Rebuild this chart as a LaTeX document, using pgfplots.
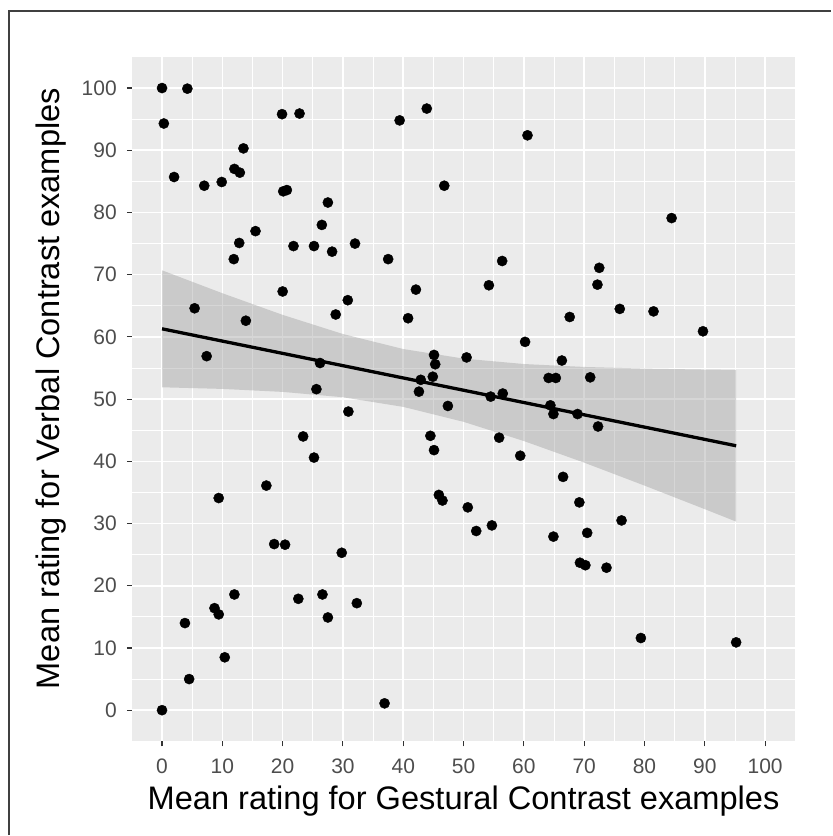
\documentclass[border=0pt]{standalone}
\usepackage{fontspec}
\setmainfont{Liberation Sans}
\usepackage{pgfplots}
\pgfplotsset{compat=1.18}
\definecolor{panelbg}{HTML}{EBEBEB}
\definecolor{ticktxt}{HTML}{4D4D4D}
\definecolor{tickcol}{HTML}{333333}
\definecolor{ribbon}{HTML}{999999}
\begin{document}
\begin{tikzpicture}
\begin{axis}[
  at={(132pt,94pt)}, anchor=south west,
  width=664pt, height=685pt, scale only axis,
  xmin=-5, xmax=105, ymin=-5, ymax=105,
  xtick={0,10,...,100}, ytick={0,10,...,100},
  minor xtick={5,15,...,95}, minor ytick={5,15,...,95},
  xtick pos=bottom, ytick pos=left,
  axis background/.style={fill=panelbg},
  axis line style={draw=none},
  grid=both,
  major grid style={white, line width=1.6pt},
  minor grid style={white, line width=0.8pt},
  tick align=outside,
  major tick length=5pt, minor tick length=0pt,
  tick style={tickcol, line width=1.1pt},
  /pgf/number format/assume math mode=true,
  ticklabel style={font=\fontsize{21}{24}\selectfont, text=ticktxt, inner sep=0pt},
  xticklabel style={anchor=base, yshift=-27pt},
  yticklabel style={anchor=east, xshift=-10pt},
]
\addplot[only marks, mark=*, mark size=5.1pt, black] coordinates {
(0,100) (4.2,99.9) (0.3,94.3) (19.9,95.8) (22.8,95.9) (13.5,90.3) (2.0,85.7) (7.0,84.3) (9.9,84.9) (12.0,87.0)
(12.9,86.4) (20.1,83.4) (20.7,83.6) (27.5,81.6) (26.5,78.0) (15.5,77.0) (12.8,75.1) (21.8,74.6) (25.2,74.6) (28.2,73.7)
(11.9,72.5) (20.0,67.3) (39.4,94.8) (43.9,96.7) (60.6,92.4) (46.8,84.3) (32.0,75.0) (37.5,72.5) (56.4,72.2) (42.1,67.6)
(54.2,68.3) (84.5,79.1) (72.5,71.1) (72.2,68.4) (5.4,64.6) (13.9,62.6) (30.8,65.9) (28.8,63.6) (7.4,56.9) (26.2,55.8)
(25.6,51.6) (30.9,48.0) (23.4,44.0) (25.2,40.6) (17.3,36.1) (9.4,34.1) (40.8,63.0) (67.6,63.2) (60.2,59.2) (45.1,57.1)
(45.3,55.6) (50.5,56.7) (66.3,56.2) (44.9,53.6) (42.9,53.1) (42.6,51.2) (64.1,53.4) (65.3,53.4) (54.5,50.4) (56.5,50.9)
(47.4,48.9) (64.4,49.0) (64.9,47.6) (44.5,44.1) (45.1,41.8) (55.9,43.8) (59.4,40.9) (66.5,37.5) (45.9,34.6) (46.5,33.7)
(50.7,32.6) (75.9,64.5) (81.5,64.1) (89.7,60.9) (71.0,53.5) (68.9,47.6) (72.3,45.6) (69.2,33.4) (0,0) (4.5,5.0)
(3.8,14.0) (8.7,16.4) (9.4,15.4) (10.4,8.5) (12.0,18.6) (18.6,26.7) (20.4,26.6) (22.6,17.9) (26.6,18.6) (27.5,14.9)
(29.8,25.3) (32.3,17.2) (36.9,1.1) (52.1,28.8) (54.7,29.7) (64.9,27.9) (76.2,30.5) (70.5,28.5) (69.3,23.7) (70.2,23.3)
(73.7,22.9) (79.4,11.6) (95.2,10.9)};
\addplot[fill=ribbon, fill opacity=0.4, draw=none] coordinates {
(0,70.70) (10,67.02) (20,63.54) (30,60.46) (40,58.05) (50,56.51) (60,55.64) (70,55.17) (80,54.90) (90,54.75) (95.2,54.69)
(95.2,30.31) (90,32.31) (80,36.10) (70,39.79) (60,43.26) (50,46.35) (40,48.75) (30,50.30) (20,51.16) (10,51.64) (0,51.90)} -- cycle;
\addplot[black, line width=3.3pt] coordinates {(0,61.3) (95.2,42.5)};
\end{axis}
\node[anchor=base, font=\fontsize{32.6}{36}\selectfont, inner sep=0pt] at (464pt,26pt) {Mean rating for Gestural Contrast examples};
\node[anchor=center, rotate=90, font=\fontsize{32.6}{36}\selectfont, inner sep=0pt] at (51pt,447pt) {Mean rating for Verbal Contrast examples};
\draw[line width=1.6pt, black!75] (9pt,0) -- (9pt,825pt) -- (832pt,825pt);
\path (0,0) rectangle (832pt,836pt);
\end{tikzpicture}
\end{document}
